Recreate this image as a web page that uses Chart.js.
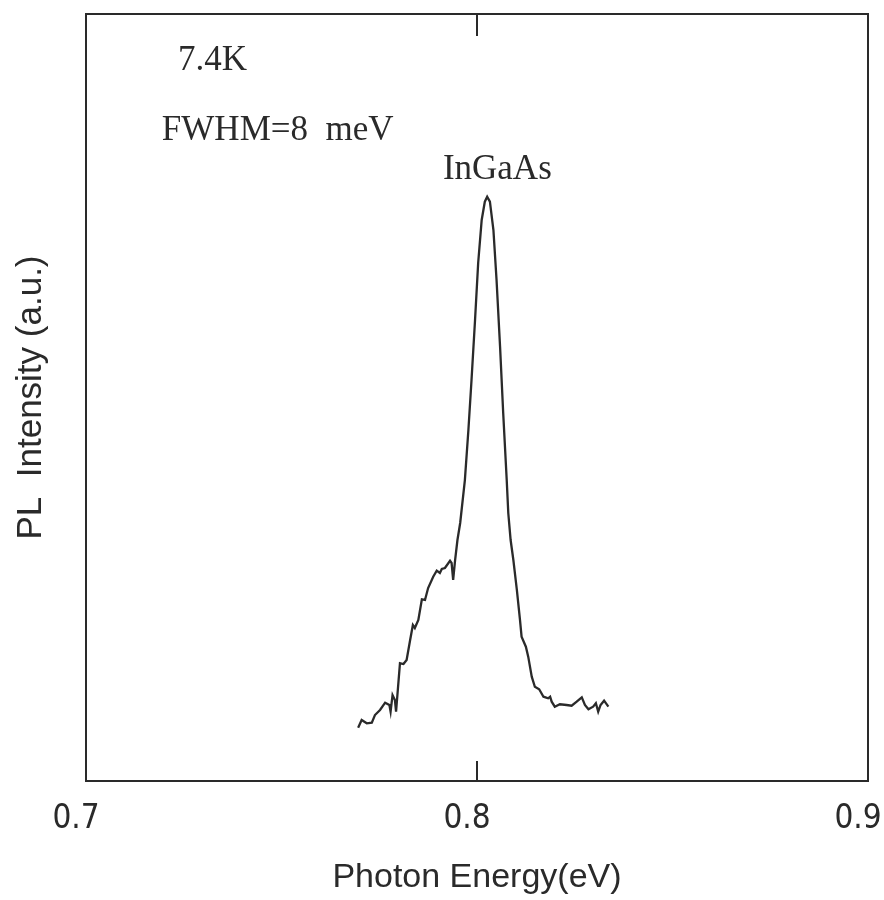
<!DOCTYPE html>
<html>
<head>
<meta charset="utf-8">
<script src="https://cdn.jsdelivr.net/npm/chart.js@4/dist/chart.umd.min.js"></script>
<style>
  html, body { margin: 0; padding: 0; background: #fff; }
  #c { display: block; }
</style>
</head>
<body>
<canvas id="c" width="884" height="900"></canvas>
<script>
// Photon energy (eV)
const energy = [0.7696,0.7705,0.7718,0.7731,0.7739,0.7752,0.7765,0.7776,0.7779,0.7784,
  0.7790,0.7793,0.7803,0.7812,0.7820,0.7829,0.7836,0.7841,0.7850,0.7859,
  0.7867,0.7875,0.7888,0.7897,0.7905,0.7910,0.7918,0.7931,0.7935,0.7939,
  0.7944,0.7950,0.7957,0.7969,0.7978,0.7986,0.7995,0.8003,0.8012,0.8020,
  0.8026,0.8033,0.8042,0.8050,0.8059,0.8067,0.8076,0.8080,0.8086,0.8093,
  0.8102,0.8110,0.8114,0.8125,0.8131,0.8140,0.8148,0.8159,0.8170,0.8182,
  0.8187,0.8191,0.8199,0.8212,0.8229,0.8242,0.8255,0.8268,0.8276,0.8285,
  0.8297,0.8304,0.8310,0.8316,0.8325,0.8336];
// PL intensity (a.u.)
const intensity = [0.0695,0.0795,0.0752,0.0760,0.0860,0.0926,0.1021,0.0991,0.0904,0.1121,
  0.1056,0.0904,0.1535,0.1525,0.1578,0.1838,0.2034,0.1995,0.2099,0.2369,
  0.2360,0.2516,0.2664,0.2742,0.2712,0.2764,0.2777,0.2872,0.2842,0.2621,
  0.2881,0.3142,0.3364,0.3924,0.4576,0.5228,0.6010,0.6754,0.7314,0.7553,
  0.7618,0.7553,0.7184,0.6532,0.5662,0.4798,0.3924,0.3494,0.3142,0.2881,
  0.2490,0.2099,0.1881,0.1751,0.1621,0.1360,0.1229,0.1196,0.1099,0.1078,
  0.1099,0.1034,0.0969,0.1000,0.0991,0.0982,0.1034,0.1091,0.0991,0.0935,
  0.0969,0.1013,0.0904,0.0991,0.1047,0.0969];
// x tick values
const xTicks = [0.7, 0.8, 0.9];
// annotation texts and their anchor positions (data units)
const noteTexts = ["7.4K", "FWHM=8  meV", "InGaAs"];
const noteX = [0.7235, 0.7194, 0.8052];
const noteY = [0.927, 0.8357, 0.7849];
const noteAlign = ["left", "left", "center"];

const INK = '#2a2a2a';

const framePlugin = {
  id: 'frame',
  afterDatasetsDraw(chart) {
    const ctx = chart.ctx;
    const a = chart.chartArea;
    const xs = chart.scales.x, ys = chart.scales.y;
    ctx.save();
    ctx.strokeStyle = INK;
    ctx.lineWidth = 2;
    ctx.strokeRect(a.left, a.top, a.right - a.left, a.bottom - a.top);
    // inward tick marks
    xTicks.forEach(v => {
      const px = Math.round(xs.getPixelForValue(v));
      if (px > a.left + 2 && px < a.right - 2) {
        ctx.beginPath();
        ctx.moveTo(px, a.bottom); ctx.lineTo(px, a.bottom - 20);
        ctx.moveTo(px, a.top); ctx.lineTo(px, a.top + 22);
        ctx.stroke();
      }
    });
    // annotations
    ctx.fillStyle = INK;
    ctx.font = '35px "Liberation Serif", "DejaVu Serif", serif';
    ctx.textBaseline = 'alphabetic';
    noteTexts.forEach((t, i) => {
      ctx.textAlign = noteAlign[i];
      ctx.fillText(t, xs.getPixelForValue(noteX[i]), ys.getPixelForValue(noteY[i]));
    });
    ctx.restore();
  }
};

new Chart(document.getElementById('c'), {
  type: 'line',
  data: {
    datasets: [{
      data: energy.map((e, i) => ({ x: e, y: intensity[i] })),
      borderColor: INK,
      borderWidth: 2.3,
      pointRadius: 0,
      tension: 0,
      fill: false
    }]
  },
  options: {
    responsive: false,
    devicePixelRatio: 1,
    animation: false,
    layout: { padding: { top: 14, right: 16, bottom: 0, left: 0 } },
    plugins: { legend: { display: false }, tooltip: { enabled: false } },
    scales: {
      x: {
        type: 'linear',
        min: 0.7, max: 0.9,
        afterBuildTicks(scale) { scale.ticks = xTicks.map(v => ({ value: v })); },
        afterFit(scale) {
          scale.height = 119;
          scale.paddingLeft = 0;
          scale.paddingRight = 0;
        },
        grid: { display: false, drawTicks: false },
        border: { display: false },
        ticks: {
          color: INK,
          padding: 19,
          labelOffset: -10,
          maxRotation: 0,
          autoSkip: false,
          font: { family: '"DejaVu Sans Condensed", "Liberation Sans Narrow", "Liberation Sans", sans-serif', size: 33 },
          callback: v => v.toFixed(1)
        },
        title: {
          display: true,
          text: 'Photon Energy(eV)',
          color: INK,
          font: { family: '"Liberation Sans", Arial, sans-serif', size: 34 },
          padding: { top: 0, bottom: 2 }
        }
      },
      y: {
        min: 0, max: 1,
        afterFit(scale) { scale.width = 86; },
        grid: { display: false, drawTicks: false },
        border: { display: false },
        ticks: { display: false },
        title: {
          display: true,
          text: 'PL  Intensity (a.u.)',
          color: INK,
          font: { family: '"Liberation Sans", Arial, sans-serif', size: 35 },
          padding: { top: 10, bottom: 0 }
        }
      }
    }
  },
  plugins: [framePlugin]
});
</script>
</body>
</html>
